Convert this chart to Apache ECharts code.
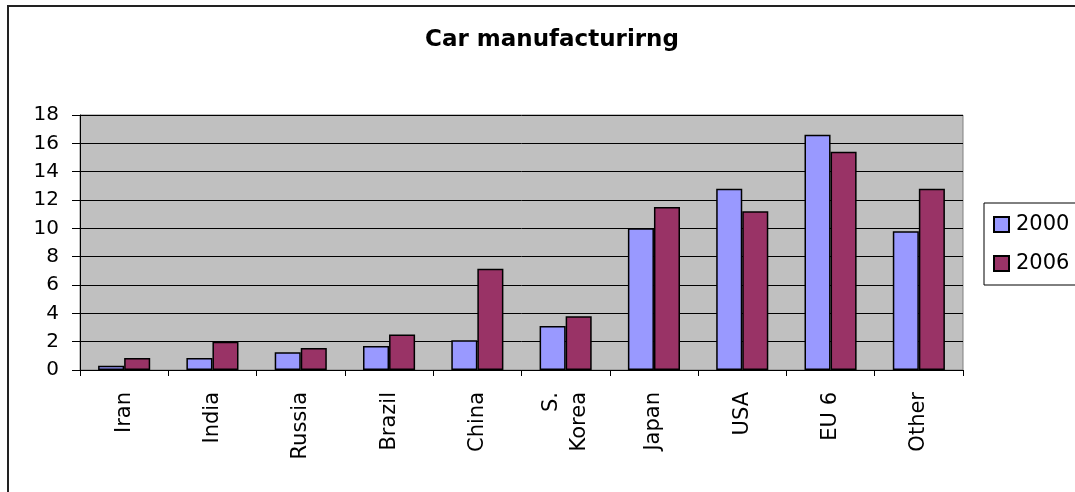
<!DOCTYPE html>
<html>
<head>
<meta charset="utf-8">
<script src="https://cdn.jsdelivr.net/npm/echarts@6/dist/echarts.min.js"></script>
<style>html,body{margin:0;padding:0;background:#fff}#c{width:1075px;height:492px}</style>
</head>
<body>
<div id="c"></div>
<script>
const categories = ['Iran', 'India', 'Russia', 'Brazil', 'China', 'S.\nKorea', 'Japan', 'USA', 'EU 6', 'Other'];
const values2000 = [0.3, 0.85, 1.25, 1.7, 2.1, 3.1, 10.0, 12.8, 16.6, 9.8];
const values2006 = [0.85, 2.0, 1.55, 2.5, 7.15, 3.8, 11.5, 11.2, 15.4, 12.8];
const yTicks = { min: 0, max: 18, interval: 2 };
const FONT = 'DejaVu Sans';

const chart = echarts.init(document.getElementById('c'));
chart.setOption({
  animation: false,
  backgroundColor: '#fff',
  graphic: [{
    type: 'rect', silent: true,
    shape: { x: 8, y: 6, width: 1200, height: 600 },
    style: { fill: 'none', stroke: '#222', lineWidth: 2 }
  }],
  title: {
    text: 'Car manufacturirng',
    left: 547, textAlign: 'center', top: 24,
    textStyle: { fontFamily: FONT, fontWeight: 'bold', fontSize: 23, color: '#000' }
  },
  legend: {
    orient: 'vertical', left: 984, top: 203,
    padding: [11, 8, 11, 9],
    itemWidth: 15, itemHeight: 15, itemGap: 18,
    borderColor: '#000', borderWidth: 1,
    icon: 'rect',
    textStyle: { fontFamily: FONT, fontSize: 21, color: '#000', padding: [0, 0, 0, 2] },
    data: ['2000', '2006']
  },
  grid: {
    left: 80, right: 112, top: 115, bottom: 122,
    show: true, backgroundColor: '#C0C0C0', borderColor: '#808080', borderWidth: 1
  },
  xAxis: {
    type: 'category', data: categories,
    axisLine: { lineStyle: { color: '#000', width: 1 } },
    axisTick: { show: true, length: 6, lineStyle: { color: '#000' } },
    axisLabel: { rotate: 90, margin: 22, fontFamily: FONT, fontSize: 21, color: '#000', lineHeight: 28 }
  },
  yAxis: {
    type: 'value', min: yTicks.min, max: yTicks.max, interval: yTicks.interval,
    axisLine: { show: true, lineStyle: { color: '#000', width: 1 } },
    axisTick: { show: true, length: 8, lineStyle: { color: '#000' } },
    axisLabel: { margin: 21, fontFamily: FONT, fontSize: 20, color: '#000' },
    splitLine: { lineStyle: { color: '#000', width: 1 } }
  },
  series: [
    { name: '2000', type: 'bar', data: values2000, barGap: '0%', barCategoryGap: '41%',
      itemStyle: { color: '#9999FF', borderColor: '#000', borderWidth: 1.5 } },
    { name: '2006', type: 'bar', data: values2006, barGap: '0%', barCategoryGap: '41%',
      itemStyle: { color: '#993366', borderColor: '#000', borderWidth: 1.5 } }
  ]
});
</script>
</body>
</html>
